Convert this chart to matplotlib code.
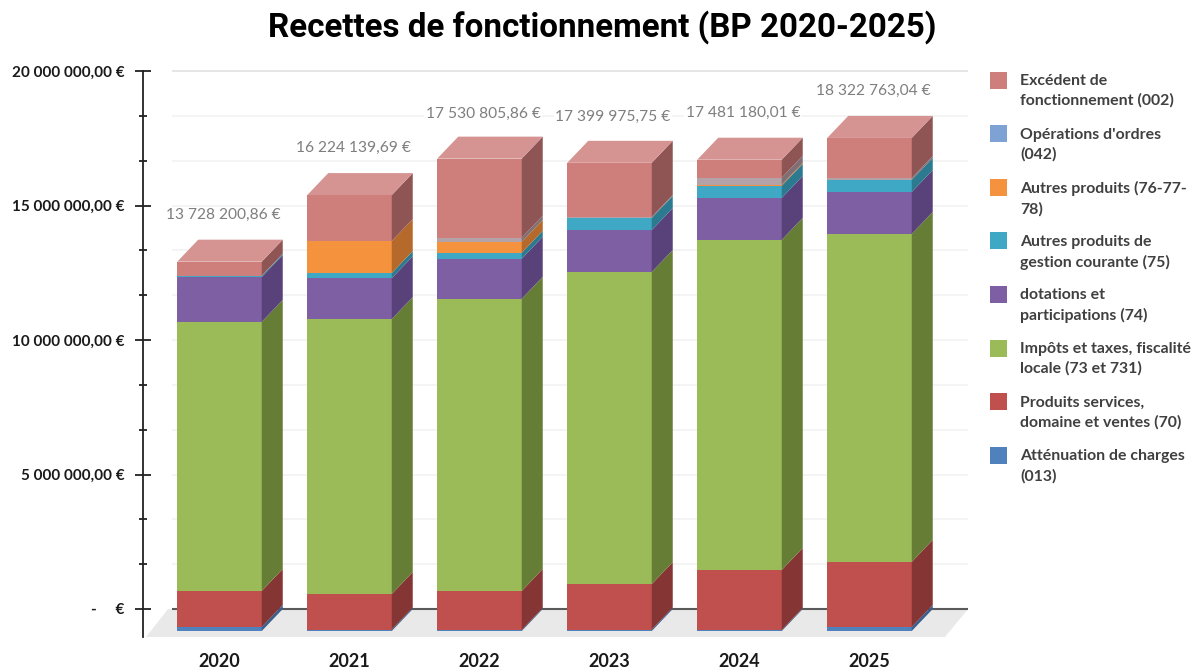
import numpy as np
import matplotlib
matplotlib.use('Agg')
import matplotlib.pyplot as plt
from matplotlib.patches import Rectangle
from matplotlib.ticker import FuncFormatter, MultipleLocator

years = ['2020', '2021', '2022', '2023', '2024', '2025']
totals = ['13 728 200,86 €', '16 224 139,69 €', '17 530 805,86 €',
          '17 399 975,75 €', '17 481 180,01 €', '18 322 763,04 €']

# values, bottom of the stack first
attenuation = [150000, 55000, 40000, 55000, 40000, 150000]
produits = [1340000, 1320000, 1450000, 1690000, 2230000, 2420000]
impots = [10000000, 10220000, 10860000, 11600000, 12270000, 12190000]
dotations = [1670000, 1520000, 1490000, 1560000, 1560000, 1560000]
gestion = [40000, 190000, 220000, 450000, 450000, 450000]
autres = [0, 1190000, 410000, 0, 40000, 0]
ordres = [10000, 0, 150000, 40000, 260000, 70000]
excedent = [520000, 1710000, 2940000, 2010000, 670000, 1490000]

series = [attenuation, produits, impots, dotations, gestion, autres, ordres, excedent]
labels = ['Atténuation de charges\n(013)',
          'Produits services,\ndomaine et ventes (70)',
          'Impôts et taxes, fiscalité\nlocale (73 et 731)',
          'dotations et\nparticipations (74)',
          'Autres produits de\ngestion courante (75)',
          'Autres produits (76-77-\n78)',
          "Opérations d'ordres\n(042)",
          'Excédent de\nfonctionnement (002)']
front = ['#4f81bd', '#c0504d', '#9bbb59', '#7f5fa3', '#3fa9c5', '#f5923e', '#b3a3a8', '#cf7f7b']
side = ['#3a5f8c', '#853634', '#667d36', '#59427a', '#2c7a8f', '#b56a2c', '#7f6f74', '#8f5554']
swatch = ['#4f81bd', '#c0504d', '#9bbb59', '#7f5fa3', '#3fa9c5', '#f5923e', '#7da2d3', '#cf7f7b']
top_color = '#d59392'

W, H = 1199, 668
fig = plt.figure(figsize=(W / 100, H / 100), dpi=100)
plt.rcParams['font.family'] = ['Lato', 'DejaVu Sans']

# axes placed so the wall runs from 0 at y=609px to 20M at y=71px
left, right, top, bottom = 143, 970, 71, 637
ax = fig.add_axes([left / W, 1 - bottom / H, (right - left) / W, (bottom - top) / H])
px_per_cat = 130
px_per_eur = 26.9 / 1e6
ax.set_xlim((left - 219.5) / px_per_cat, (right - 219.5) / px_per_cat)
ax.set_ylim(-(bottom - 609) / px_per_eur, 20e6)

depth_x = 21 / px_per_cat
depth_y = 22 / px_per_eur
bar_w = 84.5 / px_per_cat
x = np.arange(len(years))

# floor and back wall
ax.fill([-0.565, -0.396, 5.758, 5.58], [-(bottom - 609) / px_per_eur, 0, 0, -(bottom - 609) / px_per_eur],
        color='#e9e9e9', lw=0, zorder=1)
for v in np.arange(1, 13) * 5e6 / 3:
    ax.hlines(v, -0.365, 5.76, color='#f2f2f2', lw=1.2, zorder=1)
ax.hlines(20e6, -0.365, 5.76, color='#e2e2e2', lw=1.2, zorder=1, clip_on=False)
ax.hlines(0, -0.365, 5.76, color='#5a5a5a', lw=1.5, zorder=1.5)

base = np.zeros(len(years))
for vals, fc, sc in zip(series, front, side):
    vals = np.array(vals, dtype=float)
    ax.bar(x, vals, bar_w, bottom=base - depth_y, color=fc, lw=0, zorder=3)
    for i in x:
        xr = i + bar_w / 2
        b, t = base[i], base[i] + vals[i]
        ax.fill([xr, xr + depth_x, xr + depth_x, xr], [b - depth_y, b, t, t - depth_y],
                color=sc, lw=0, zorder=3)
    base = base + vals

# top faces of the boxes
for i in x:
    xl, xr = i - bar_w / 2, i + bar_w / 2
    ax.fill([xl, xl + depth_x, xr + depth_x, xr],
            [base[i] - depth_y, base[i], base[i], base[i] - depth_y],
            color=top_color, lw=0, zorder=3)

# total labels above the bars, offsets in pixels turned into points
label_dy = [46.5, 47.5, 44.5, 45.5, 46.5, 47.5]
for i in x:
    ax.annotate(totals[i], (i, base[i] - depth_y), xytext=(3.5 * 0.72, label_dy[i] * 0.72),
                textcoords='offset points', ha='center', va='center', fontsize=11.2,
                color='#7f7f7f', zorder=4,
                bbox=dict(facecolor='white', edgecolor='none', pad=1))


def euro(v, pos):
    if v == 0:
        return '-     €'
    return f'{v:,.2f} €'.replace(',', ' ').replace('.', ',')


ax.yaxis.set_major_locator(MultipleLocator(5e6))
ax.yaxis.set_minor_locator(MultipleLocator(5e6 / 3))
ax.yaxis.set_major_formatter(FuncFormatter(euro))
ax.tick_params(axis='y', which='major', direction='inout', length=11, width=1.3, color='#222222', pad=7.6)
ax.tick_params(axis='y', which='minor', direction='inout', length=6, width=1.3, color='#222222')
for lab in ax.get_yticklabels():
    lab.set_fontweight('bold')
    lab.set_fontsize(11)
    lab.set_color('#1a1a1a')

ax.set_xticks(x, years, fontsize=13, fontweight='bold', color='#1a1a1a')
ax.tick_params(axis='x', length=0, pad=11.5)
for s in ['top', 'right', 'bottom']:
    ax.spines[s].set_visible(False)
ax.spines['left'].set_linewidth(1.3)
ax.spines['left'].set_color('#222222')
ax.patch.set_visible(False)

fig.text(602 / W, 1 - 27 / H, 'Recettes de fonctionnement (BP 2020-2025)', ha='center', va='center',
         fontsize=23.9, fontweight='bold', family=['Roboto', 'DejaVu Sans'], color='black')

# legend, top entry is the top of the stack
for k, (lab, fc) in enumerate(zip(labels[::-1], swatch[::-1])):
    y_px = 80 + k * 53.6
    fig.patches.append(Rectangle((990 / W, 1 - (y_px + 8.5) / H), 17 / W, 17 / H,
                                 transform=fig.transFigure, facecolor=fc, edgecolor='none'))
    fig.text(1020 / W, 1 - (y_px - 6) / H, lab, ha='left', va='top', fontsize=11.4,
             fontweight='bold', color='#404040', linespacing=1.47)

fig.savefig('out.png', dpi=100)
